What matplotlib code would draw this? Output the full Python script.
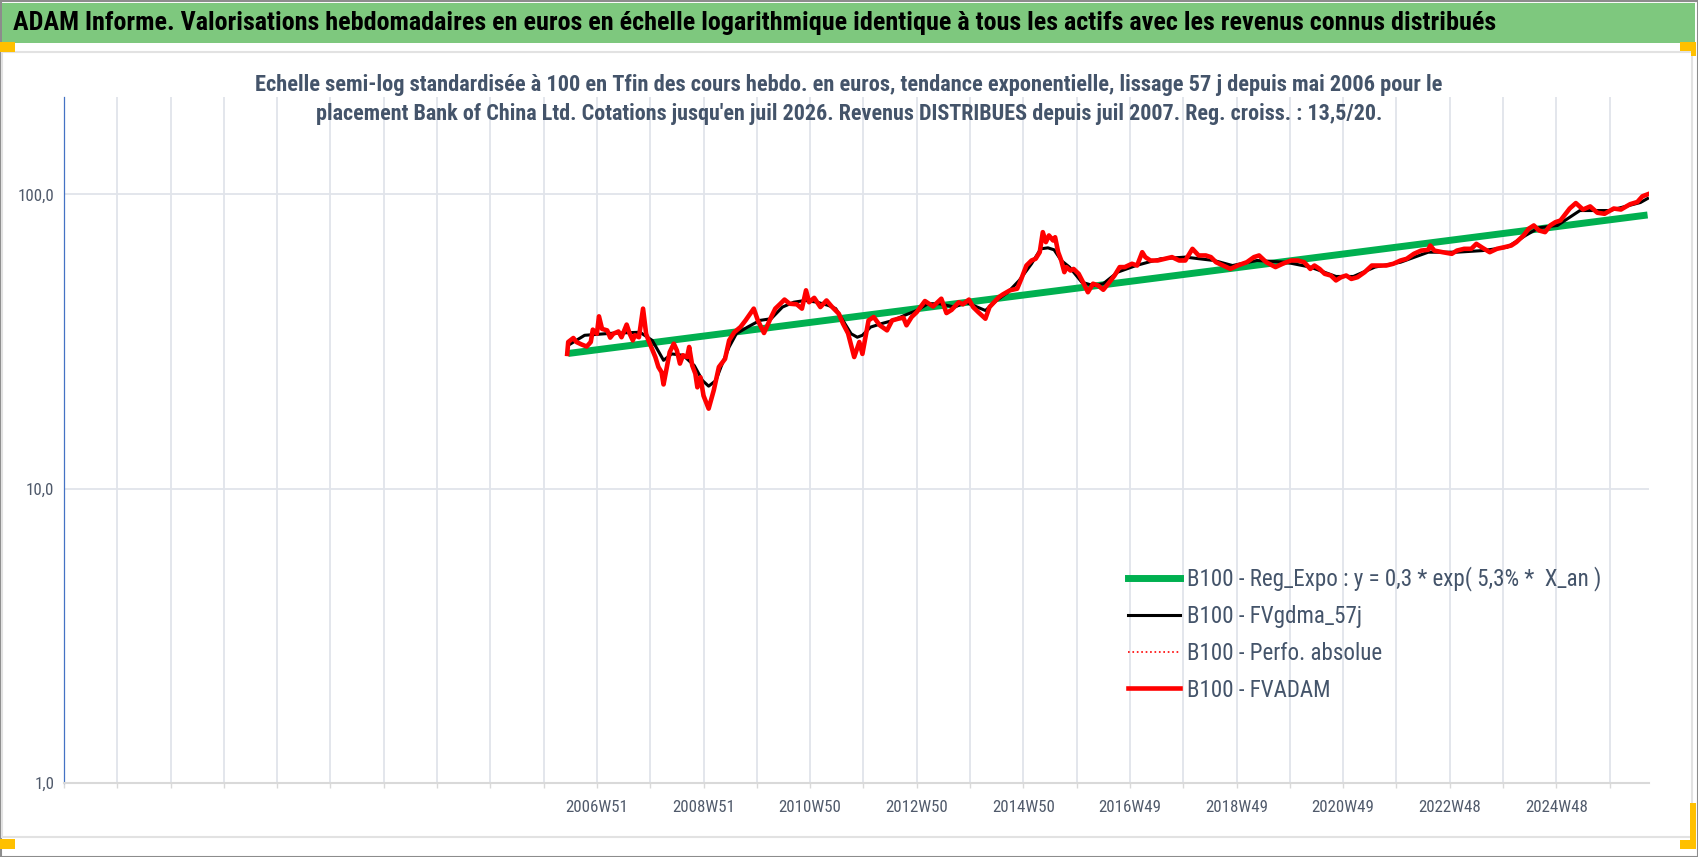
import os
import matplotlib
matplotlib.use('Agg')
import matplotlib.pyplot as plt
from matplotlib import font_manager
from matplotlib.font_manager import FontProperties
from matplotlib.patches import Rectangle
from matplotlib.lines import Line2D
from matplotlib.ticker import NullLocator

# values, x = weekly category index of the Excel axis
fva_weeks = [491, 492, 497, 500, 505, 510, 514, 516, 520, 522,
             525, 530, 533, 536, 541, 544, 549, 552, 555, 557,
             561, 565, 568, 570, 573, 577, 580, 583, 585, 588,
             591, 595, 598, 601, 604, 608, 610, 613, 616, 618,
             621, 624, 629, 634, 639, 645, 649, 654, 660, 665,
             673, 677, 683, 690, 694, 699, 703, 708, 715, 720,
             724, 727, 732, 738, 744, 749, 756, 760, 765, 771,
             776, 779, 785, 790, 796, 803, 808, 814, 819, 822,
             827, 832, 840, 848, 856, 861, 866, 873, 877, 883,
             887, 892, 899, 903, 912, 916, 923, 930, 934, 939,
             944, 948, 952, 955, 958, 961, 965, 967, 970, 973,
             976, 978, 982, 985, 990, 995, 999, 1004, 1009, 1014,
             1020, 1025, 1030, 1035, 1042, 1047, 1052, 1055, 1060, 1067,
             1074, 1081, 1088, 1094, 1101, 1107, 1114, 1119, 1124, 1131,
             1138, 1145, 1154, 1161, 1166, 1173, 1182, 1189, 1197, 1204,
             1210, 1216, 1220, 1225, 1230, 1236, 1241, 1246, 1251, 1256,
             1262, 1269, 1276, 1283, 1290, 1297, 1304, 1310, 1317, 1324,
             1331, 1333, 1337, 1345, 1354, 1359, 1366, 1373, 1378, 1384,
             1391, 1398, 1405, 1412, 1417, 1424, 1429, 1434, 1439, 1445,
             1450, 1455, 1460, 1469, 1475, 1482, 1489, 1496, 1503, 1512,
             1519, 1528, 1535, 1540, 1545]
fva_values = [28.7, 31.5, 32.5, 31.5, 30.9, 30.4, 31.5, 34.7, 33.6, 38.5,
              34.9, 34.5, 32.6, 33.6, 34.2, 32.7, 36.1, 33.6, 31.9, 33.2,
              32.7, 40.9, 33.6, 32.1, 30.3, 28.0, 25.9, 24.9, 22.6, 25.6,
              29.1, 31.1, 29.5, 26.6, 28.4, 28.0, 30.3, 26.2, 24.6, 22.1,
              23.9, 20.7, 18.7, 21.6, 25.9, 27.6, 31.9, 34.0, 35.4, 37.3,
              40.9, 37.3, 33.8, 38.3, 40.9, 42.5, 43.9, 42.5, 42.3, 40.9,
              47.2, 43.0, 44.5, 41.4, 43.6, 41.6, 39.3, 36.4, 33.7, 28.0,
              31.5, 28.7, 37.3, 38.3, 35.9, 34.5, 37.3, 37.8, 38.1, 35.9,
              38.3, 39.8, 43.4, 41.6, 44.2, 39.5, 40.5, 43.0, 42.3, 43.9,
              41.4, 39.8, 37.8, 41.4, 44.7, 45.7, 47.2, 47.8, 51.6, 57.3,
              59.6, 60.4, 63.6, 74.4, 68.8, 72.5, 69.7, 71.5, 63.6, 59.6,
              54.4, 56.6, 55.1, 55.8, 53.7, 49.7, 46.5, 49.7, 49.0, 47.4,
              50.3, 53.0, 56.6, 56.6, 58.1, 57.3, 63.6, 61.2, 59.6, 59.6,
              60.4, 61.2, 59.6, 59.6, 65.3, 62.0, 62.0, 61.2, 58.8, 57.3,
              55.8, 57.3, 58.8, 61.2, 62.0, 58.8, 56.6, 58.1, 59.6, 59.6,
              58.8, 55.8, 57.3, 55.8, 53.7, 53.0, 51.0, 52.3, 53.0, 51.6,
              52.3, 54.4, 57.3, 57.3, 57.3, 58.1, 59.6, 60.4, 62.8, 64.4,
              64.8, 67.0, 64.4, 63.6, 62.8, 64.4, 65.3, 65.3, 67.9, 65.8,
              63.6, 65.3, 66.1, 67.0, 68.8, 72.5, 76.4, 78.4, 75.4, 74.4,
              78.4, 80.4, 81.5, 89.5, 93.4, 88.8, 91.0, 86.6, 85.9, 89.5,
              88.8, 92.6, 94.2, 98.5, 100.0]

gdma_weeks = [492, 508, 533, 562, 574, 585, 593, 604, 615, 623,
              629, 636, 641, 649, 656, 667, 679, 690, 701, 712,
              723, 735, 746, 753, 761, 768, 774, 779, 787, 798,
              809, 820, 832, 843, 854, 869, 880, 891, 899, 910,
              921, 932, 944, 953, 960, 966, 973, 981, 993, 1004,
              1014, 1028, 1046, 1070, 1094, 1122, 1140, 1164, 1192, 1216,
              1241, 1258, 1279, 1304, 1331, 1359, 1384, 1408, 1426, 1439,
              1457, 1479, 1508, 1538, 1545]
gdma_values = [30.7, 33.2, 33.7, 34.0, 31.9, 27.3, 28.7, 28.4, 26.2, 23.3,
               22.3, 23.3, 25.9, 30.3, 33.6, 35.4, 37.3, 37.8, 41.4, 43.0,
               43.6, 43.0, 41.9, 40.9, 36.8, 33.6, 32.7, 33.2, 35.4, 36.4,
               37.3, 38.8, 40.3, 42.5, 42.5, 41.4, 43.0, 41.4, 40.3, 43.6,
               46.5, 51.0, 58.1, 65.3, 65.8, 64.8, 59.6, 56.6, 50.3, 49.0,
               49.7, 54.4, 57.3, 60.4, 61.2, 59.6, 57.3, 59.6, 58.8, 56.6,
               52.6, 52.6, 56.6, 58.8, 63.6, 63.6, 64.4, 66.1, 72.5, 77.0,
               78.4, 88.1, 88.1, 93.8, 96.8]

# exponential trend, straight on the log axis
trend_weeks = [492, 1545]
trend_values = [28.8, 85.1]

tick_labels = ['', '', '', '', '', '2006W51', '2008W51', '2010W50', '2012W50',
               '2014W50', '2016W49', '2018W49', '2020W49', '2022W48', '2024W48']
y_ticks = [1, 10, 100]
y_labels = ['1,0', '10,0', '100,0']

legend_labels = ['B100 - Reg_Expo : y = 0,3 * exp( 5,3% *  X_an )',
                 'B100 - FVgdma_57j',
                 'B100 - Perfo. absolue',
                 'B100 - FVADAM']

title = ("ADAM Informe. Valorisations hebdomadaires en euros en échelle logarithmique "
         "identique à tous les actifs avec les revenus connus distribués")
subtitle1 = ("Echelle semi-log standardisée à 100 en Tfin des cours hebdo. en euros, tendance "
             "exponentielle, lissage 57 j depuis mai 2006 pour le")
subtitle2 = ("placement Bank of China Ltd. Cotations jusqu'en juil 2026. Revenus DISTRIBUES "
             "depuis juil 2007. Reg. croiss. : 13,5/20.")

W, H = 1698, 857


# look for a narrow sans font (the original uses Calibri)
def find_font(bold):
    files = font_manager.findSystemFonts()
    prefs = ['liberationsansnarrow', 'robotocondensed', 'dejavusanscondensed', 'opensanscondensed']
    for p in prefs:
        for fn in files:
            b = os.path.basename(fn).lower().replace('-', '').replace('_', '')
            if not b.startswith(p):
                continue
            rest = b[len(p):].split('.')[0]
            if bold and rest == 'bold':
                return fn
            if not bold and rest in ('', 'regular'):
                return fn
    return None


f_reg = find_font(False)
f_bold = find_font(True)
fp_reg = FontProperties(fname=f_reg) if f_reg else FontProperties(family='Roboto')
fp_bold = FontProperties(fname=f_bold) if f_bold else FontProperties(family='Roboto', weight='bold')

TXT = '#44546A'
GRID = '#E1E4EA'

fig = plt.figure(figsize=(W / 100, H / 100), dpi=100)
renderer = fig.canvas.get_renderer()


def sized(fp, s, target_px):
    # font size that gives the string the width measured on the reference
    p = fp.copy()
    p.set_size(10)
    t = fig.text(0, 0, s, fontproperties=p)
    w = t.get_window_extent(renderer).width
    t.remove()
    p.set_size(10 * target_px / w)
    return p


def box(x0, y0, x1, y1, **kw):
    # rectangle given in pixels from the top left corner
    fig.patches.append(Rectangle((x0 / W, 1 - y1 / H), (x1 - x0) / W, (y1 - y0) / H,
                                 transform=fig.transFigure, figure=fig, **kw))


# frame decorations
box(0.5, 0.5, W - 0.5, H - 0.5, fill=False, ec='#8C8C8C', lw=1.5)
box(2, 3, 1695, 43, color='#7EC87E', lw=0)
box(2, 51.5, 1691.5, 836.7, fill=False, ec='#E2E2E2', lw=1.5)
for r in [(0, 42, 15, 52), (1680, 42, 1696, 51), (1691, 42, 1696, 56), (0, 839, 15, 849),
          (1689.5, 803, 1695.7, 848.5), (1679.5, 839.5, 1695.7, 848.5)]:
    box(*r, color='#FFC000', lw=0)

fig.text(13 / W, 1 - 23 / H, title, fontproperties=sized(fp_bold, title, 1487),
         va='center', color='black')
fig.text(0.5, 1 - 84.5 / H, subtitle1, fontproperties=sized(fp_bold, subtitle1, 1192),
         ha='center', va='center', color=TXT)
fig.text(0.5, 1 - 113.7 / H, subtitle2, fontproperties=sized(fp_bold, subtitle2, 1069),
         ha='center', va='center', color=TXT)

ax = fig.add_axes([63.9 / W, (H - 783) / H, (1648.6 - 63.9) / W, (783 - 96.5) / H])
ax.set_yscale('log')
ax.set_ylim(1, 215)
ax.set_xlim(0, 1546)

ax.plot(trend_weeks, trend_values, color='#00B050', lw=5, solid_capstyle='butt', zorder=2)
ax.plot(fva_weeks, fva_values, color='#FF0000', lw=1.2, ls=':', zorder=3)
ax.plot(gdma_weeks, gdma_values, color='black', lw=2.2, zorder=4)
ax.plot(fva_weeks, fva_values, color='#FF0000', lw=3.3, zorder=5)

tick_fp = sized(fp_reg, '2024W48', 62)
xt = list(range(0, 1509, 52))
ax.set_xticks(xt)
ax.set_xticklabels([tick_labels[k // 2] if k % 2 == 0 else '' for k in range(len(xt))],
                   fontproperties=tick_fp, color='#505A6B')
ax.set_yticks(y_ticks)
ax.set_yticklabels(y_labels, fontproperties=tick_fp, color='#505A6B')
ax.yaxis.set_minor_locator(NullLocator())
ax.grid(True, color=GRID, lw=1.3, zorder=0)
ax.set_axisbelow(True)

for s in ['top', 'right']:
    ax.spines[s].set_visible(False)
ax.spines['left'].set_color('#4472C4')
ax.spines['left'].set_linewidth(0.9)
ax.spines['bottom'].set_color('#D9D9D9')
ax.spines['bottom'].set_linewidth(1.5)
ax.tick_params(axis='x', length=3.6, width=1, color='#D9D9D9', pad=9)
ax.tick_params(axis='y', length=0, pad=7)

# legend, no frame, rows 36.7 px apart
leg_fp = sized(fp_reg, legend_labels[0], 412)
fpx = leg_fp.get_size() * 100 / 72
t = fig.text(0, 0, 'lp', fontproperties=leg_fp)
row_h = t.get_window_extent(renderer).height
t.remove()
handles = [Line2D([], [], color='#00B050', lw=5),
           Line2D([], [], color='black', lw=2.2),
           Line2D([], [], color='#FF0000', lw=1.2, ls=':'),
           Line2D([], [], color='#FF0000', lw=3.3)]
fig.legend(handles, legend_labels, loc='center left', bbox_to_anchor=(1128 / W, 1 - 634 / H),
           frameon=False, prop=leg_fp, handlelength=52 / fpx, handletextpad=7 / fpx,
           labelspacing=(36.7 - row_h) / fpx, borderpad=0, borderaxespad=0, labelcolor=TXT)

fig.savefig('out.png', dpi=100)
